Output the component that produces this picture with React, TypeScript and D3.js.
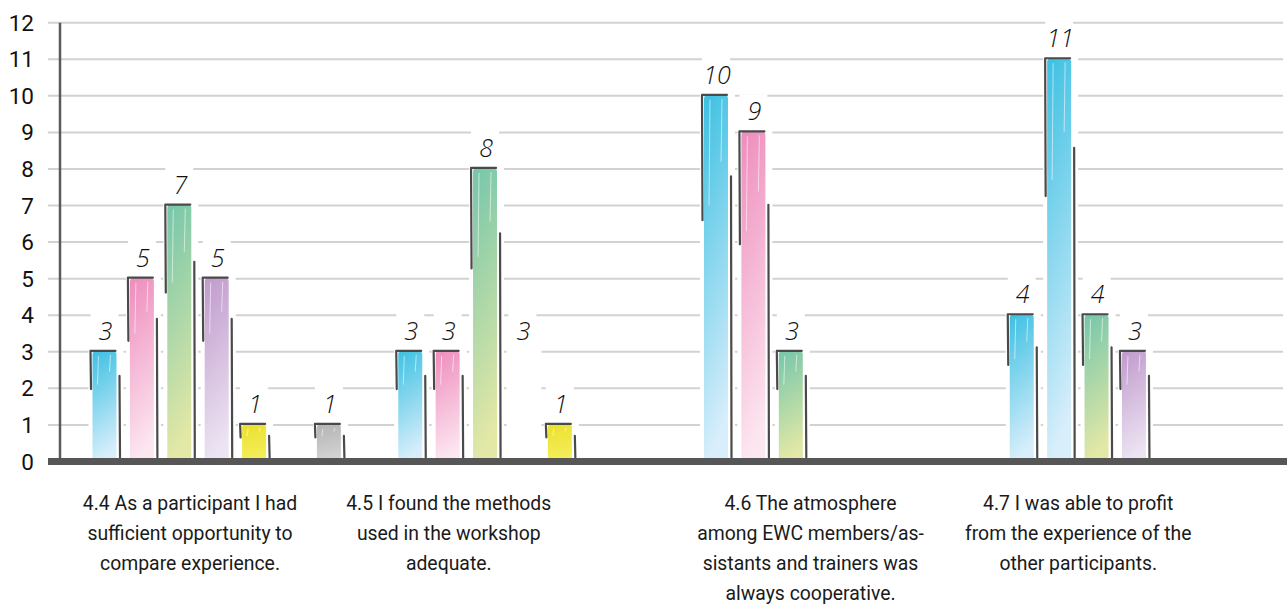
import React from "react";
import * as d3 from "d3";

// ---------- data ----------
const groupIds = ["4.4", "4.5", "4.6", "4.7"];
const groupLabelLines = [
  ["4.4 As a participant I had", "sufficient opportunity to", "compare experience."],
  ["4.5 I found the methods", "used in the workshop", "adequate."],
  ["4.6 The atmosphere", "among EWC members/as-", "sistants and trainers was", "always cooperative."],
  ["4.7 I was able to profit", "from the experience of the", "other participants."],
];
const slotNames = ["Blue", "Pink", "Green", "Purple", "Yellow", "Gap", "Gray"];
const blueValues = [3, 3, 10, 4];
const pinkValues = [5, 3, 9, 11];
const greenValues = [7, 8, 3, 4];
const purpleValues = [5, 3, null, 3];
const yellowValues = [1, 1, null, null];
const gapValues = [null, null, null, null];
const grayValues = [1, null, null, null];
const yTickValues = [0, 1, 2, 3, 4, 5, 6, 7, 8, 9, 10, 11, 12];
// special cases seen in the picture: pink slot of 4.7 drawn blue, purple bar of 4.5 not drawn (label only)
const colorOverrides = [
  { group: "4.7", slot: "Pink", color: "Blue" },
  { group: "4.5", slot: "Purple", color: "None" },
];

const seriesValues: (number | null)[][] = [
  blueValues, pinkValues, greenValues, purpleValues, yellowValues, gapValues, grayValues,
];

// ---------- style ----------
const W = 1287;
const H = 608;
const palette: Record<string, [string, string]> = {
  Blue: ["#3cc0e2", "#d8eefb"],
  Pink: ["#ee8cbc", "#fce6f0"],
  Green: ["#74c6aa", "#e4e8a6"],
  Purple: ["#c09acc", "#ece4f2"],
  Yellow: ["#ebe02e", "#f4ee5c"],
  Gray: ["#b3b3b3", "#d4d4d4"],
};
const labelCenterOffsets = [130, 83, 139, 101];
const labelFont = "Roboto, 'Noto Sans', sans-serif";

export default function App() {
  const margin = { left: 60, right: 4, top: 22.7, bottom: 146.5 };
  const y = d3.scaleLinear().domain([0, 12]).range([H - margin.bottom, margin.top]);
  const x0 = d3.scaleBand<string>().domain(groupIds).range([margin.left, W - margin.right]);
  const step = 37.4;
  const x1 = d3
    .scaleBand<string>()
    .domain(slotNames)
    .range([44.5 - step / 2, 44.5 - step / 2 + 7 * step]);

  const bars: any[] = [];
  groupIds.forEach((g, gi) => {
    slotNames.forEach((s, si) => {
      const v = seriesValues[si][gi];
      if (v == null) return;
      const ov = colorOverrides.find((o) => o.group === g && o.slot === s);
      const color = ov ? ov.color : s;
      const c = (x0(g) as number) + (x1(s) as number) + x1.bandwidth() / 2;
      bars.push({ g, s, v, color, c, key: g + s });
    });
  });

  const y0 = y(0);

  return (
    <svg width={W} height={H} style={{ position: "absolute", left: 0, top: 0, background: "#fff" }}>
      <defs>
        {Object.entries(palette).map(([k, [top, bot]]) => (
          <linearGradient key={k} id={"grad" + k} x1="0" y1="0" x2="0.15" y2="1">
            <stop offset="0" stopColor={top} />
            <stop offset="1" stopColor={bot} />
          </linearGradient>
        ))}
      </defs>
      <rect x={0} y={0} width={W} height={H} fill="#fff" />
      {/* gridlines */}
      {yTickValues.map((t) => (
        <line key={"g" + t} x1={48} x2={W - 4} y1={y(t)} y2={y(t)} stroke="#d2d2d2" strokeWidth={2} />
      ))}
      {/* halos */}
      {bars.map((b) => (
        <g key={"h" + b.key}>
          <rect x={b.c - 16} width={35} y={y(b.v) - 6} height={y0 - y(b.v) + 6} fill="#fff" />
          <rect x={b.c - 14} width={28} y={y(b.v) - 38} height={30} fill="#fff" />
        </g>
      ))}
      {/* y axis */}
      <line x1={60} x2={60} y1={y(12)} y2={y0} stroke="#5a5a5a" strokeWidth={2.5} />
      {yTickValues.map((t) => (
        <text
          key={"t" + t}
          x={34}
          y={y(t) + 8}
          textAnchor="end"
          fontFamily={labelFont}
          fontSize={22.5}
          fill="#111"
        >
          {t}
        </text>
      ))}
      {/* bars */}
      {bars.map((b) => {
        const yt = y(b.v);
        const h = y0 - yt;
        const c = b.c;
        const leftLen = Math.max(8, h * 0.34);
        const rightStart = Math.max(11, h * 0.22);
        return (
          <g key={b.key}>
            {b.color !== "None" && (
              <>
                <rect
                  x={c - 12}
                  width={24}
                  y={yt - 1}
                  height={h + 2}
                  rx={4}
                  fill={`url(#grad${b.color})`}
                />
                <line x1={c - 6} x2={c - 7} y1={yt + 4} y2={yt + h * 0.3} stroke="#fff" strokeOpacity={0.55} strokeWidth={1} />
                <line x1={c + 6} x2={c + 5} y1={yt + 3} y2={yt + h * 0.18} stroke="#fff" strokeOpacity={0.55} strokeWidth={1} />
                <path
                  d={`M${c - 13.5},${yt + leftLen} L${c - 14},${yt - 1} L${c + 11},${yt - 1}`}
                  fill="none"
                  stroke="#4a4a4a"
                  strokeWidth={2.2}
                  strokeLinecap="round"
                  strokeLinejoin="round"
                />
                <path
                  d={`M${c + 15},${yt + rightStart} L${c + 15.5},${y0 - 4}`}
                  fill="none"
                  stroke="#4a4a4a"
                  strokeWidth={2.2}
                  strokeLinecap="round"
                />
              </>
            )}
            <text
              x={c + 1}
              y={yt - 12}
              textAnchor="middle"
              fontFamily="'Open Sans', 'DejaVu Sans', sans-serif"
              fontStyle="italic"
              fontWeight={300}
              fontSize={25}
              fill="#111"
            >
              {b.v}
            </text>
          </g>
        );
      })}
      {/* x axis */}
      <line x1={48} x2={W} y1={y0} y2={y0} stroke="#565656" strokeWidth={7} />
      {/* category labels */}
      {groupIds.map((g, gi) => {
        const cx = (x0(g) as number) + labelCenterOffsets[gi];
        return (
          <g key={"l" + g} transform={`translate(${cx},0) scale(0.97,1)`}>
            {groupLabelLines[gi].map((line, li) => (
              <text
                key={li}
                x={0}
                y={510 + li * 30}
                textAnchor="middle"
                fontFamily={labelFont}
                fontSize={20}
                fill="#1a1a1a"
              >
                {line}
              </text>
            ))}
          </g>
        );
      })}
    </svg>
  );
}
